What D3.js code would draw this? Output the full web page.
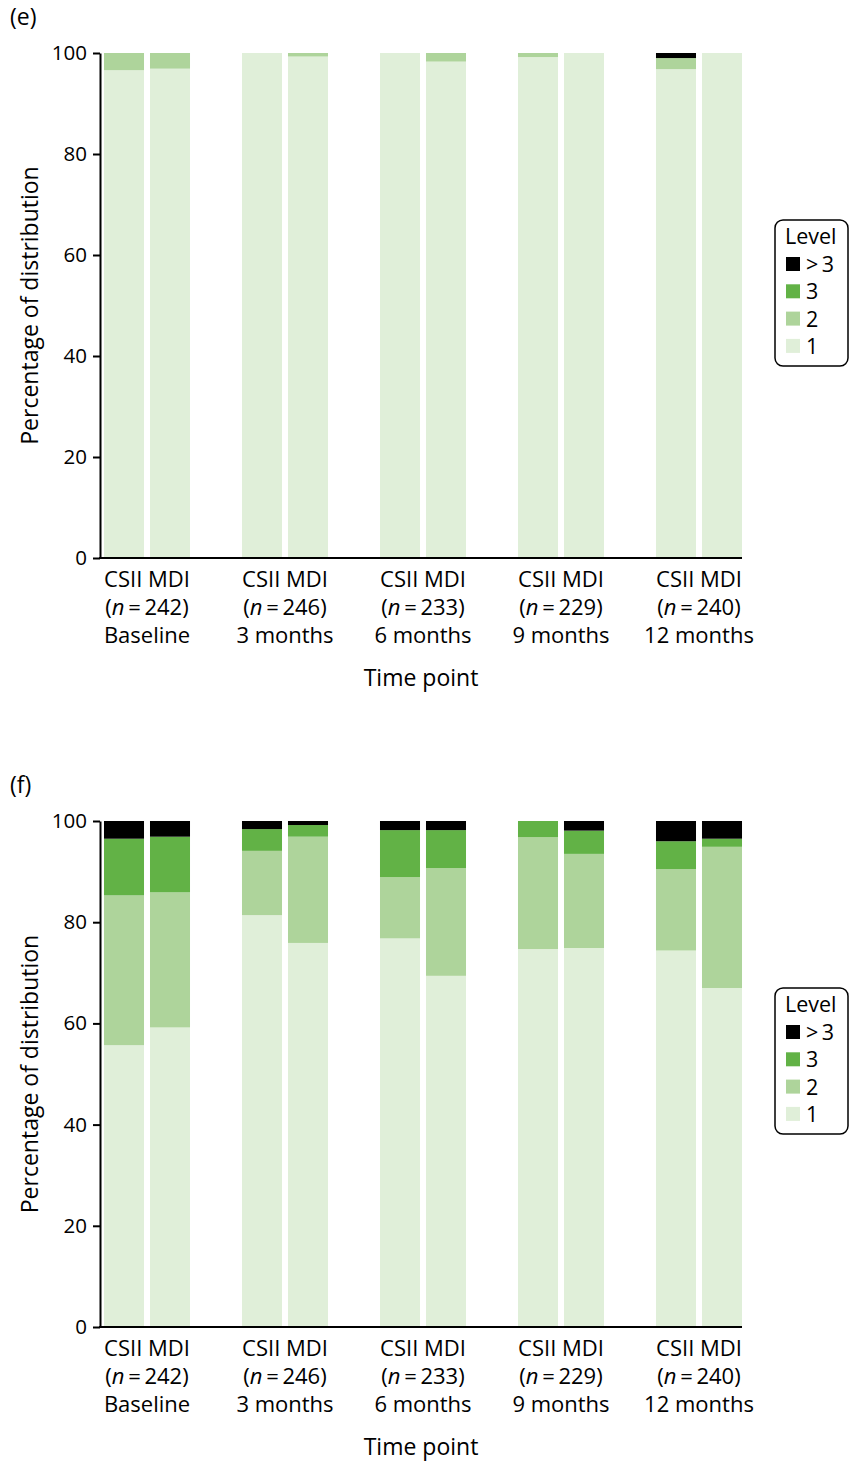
<!DOCTYPE html>
<html>
<head>
<meta charset="utf-8">
<script src="https://cdn.jsdelivr.net/npm/d3@7/dist/d3.min.js"></script>
<style>
  body { margin: 0; background: #fff; }
  svg text { font-family: "Open Sans", "Noto Sans", sans-serif; fill: #000; }
</style>
</head>
<body>
<svg id="chart" width="849" height="1461"></svg>
<script>
// Time points and treatment arms
const timePoints = ["Baseline", "3 months", "6 months", "9 months", "12 months"];
const arms = ["CSII", "MDI"];
const sampleSizes = [242, 246, 233, 229, 240];
const levels = ["1", "2", "3", ">3"];
const legendLabels = [">3", "3", "2", "1"];
const yTicks = [0, 20, 40, 60, 80, 100];

// Panel (e): percentage per level, bars ordered CSII/MDI within each time point
const e_level1 = [96.6, 96.9, 100, 99.3, 100, 98.3, 99.2, 100, 96.8, 100];
const e_level2 = [3.4, 3.1, 0, 0.7, 0, 1.7, 0.8, 0, 2.2, 0];
const e_level3 = [0, 0, 0, 0, 0, 0, 0, 0, 0, 0];
const e_levelGt3 = [0, 0, 0, 0, 0, 0, 0, 0, 1.0, 0];

// Panel (f)
const f_level1 = [55.7, 59.2, 81.4, 75.9, 76.8, 69.4, 74.7, 74.9, 74.4, 67.0];
const f_level2 = [29.6, 26.7, 12.7, 21.0, 12.1, 21.3, 22.1, 18.6, 16.1, 27.9];
const f_level3 = [11.2, 11.0, 4.3, 2.3, 9.3, 7.5, 3.2, 4.6, 5.5, 1.6];
const f_levelGt3 = [3.5, 3.1, 1.6, 0.8, 1.8, 1.8, 0, 1.9, 4.0, 3.5];

const colors = { "1": "#e0efd9", "2": "#aed49b", "3": "#62b246", ">3": "#000000" };

function buildRows(l1, l2, l3, l4) {
  const rows = [];
  timePoints.forEach((tp, i) => {
    arms.forEach((arm, j) => {
      const k = i * 2 + j;
      rows.push({ tp, arm, "1": l1[k], "2": l2[k], "3": l3[k], ">3": l4[k] });
    });
  });
  return rows;
}

const svg = d3.select("#chart");
const labelSize = 22;
const titleSize = 23;

function drawPanel(opts) {
  const { top, bottom, label, labelY, rows, legendTop } = opts;
  const g = svg.append("g");

  const x = d3.scaleBand().domain(timePoints).range([78, 768]);
  const xi = d3.scaleBand().domain(arms).range([0, x.bandwidth()])
    .paddingInner(0.13).paddingOuter(0.565);
  const y = d3.scaleLinear().domain([0, 100]).range([bottom, top]);

  const stack = d3.stack().keys(levels);
  const series = stack(rows);

  // stacked bars
  g.selectAll("g.layer").data(series).join("g")
    .attr("class", "layer")
    .attr("fill", d => colors[d.key])
    .selectAll("rect").data(d => d).join("rect")
      .attr("x", d => x(d.data.tp) + xi(d.data.arm))
      .attr("width", xi.bandwidth())
      .attr("y", d => y(d[1]))
      .attr("height", d => Math.max(0, y(d[0]) - y(d[1])));

  // y axis
  const axisX = 100;
  const yAxis = d3.axisLeft(y).tickValues(yTicks).tickSize(7).tickSizeOuter(0).tickPadding(6);
  const ya = g.append("g").attr("transform", `translate(${axisX},0)`).call(yAxis);
  ya.select(".domain").attr("stroke", "#000").attr("stroke-width", 2);
  ya.selectAll(".tick line").attr("stroke", "#000").attr("stroke-width", 2);
  ya.selectAll(".tick text").attr("font-size", 20.5).attr("fill", "#000")
    .style("font-family", '"Open Sans", "Noto Sans", sans-serif');

  // x axis baseline
  const xEnd = x(timePoints[timePoints.length - 1]) + xi(arms[1]) + xi.bandwidth();
  g.append("line")
    .attr("x1", axisX - 1).attr("x2", xEnd)
    .attr("y1", y(0)).attr("y2", y(0))
    .attr("stroke", "#000").attr("stroke-width", 2);

  // x category labels
  const lab = g.selectAll("g.xlab").data(timePoints).join("g")
    .attr("class", "xlab")
    .attr("transform", d => `translate(${x(d) + x.bandwidth() / 2},${y(0)})`);
  lab.append("text").attr("y", 29).attr("text-anchor", "middle").attr("font-size", labelSize)
    .text(arms.join(" "));
  const nText = lab.append("text").attr("y", 57).attr("text-anchor", "middle").attr("font-size", labelSize);
  nText.append("tspan").text("(");
  nText.append("tspan").attr("font-style", "italic").text("n");
  nText.append("tspan").text((d, i) => "\u2009=\u2009" + sampleSizes[i] + ")");
  lab.append("text").attr("y", 85).attr("text-anchor", "middle").attr("font-size", labelSize)
    .text(d => d);

  // axis titles
  g.append("text").attr("x", 421).attr("y", y(0) + 128).attr("text-anchor", "middle")
    .attr("font-size", titleSize).text("Time point");
  g.append("text")
    .attr("transform", `translate(38,${(top + bottom) / 2}) rotate(-90)`)
    .attr("text-anchor", "middle").attr("font-size", titleSize).text("Percentage of distribution");

  // panel label
  g.append("text").attr("x", 10).attr("y", labelY).attr("font-size", titleSize).text(label);

  // legend
  const lg = g.append("g").attr("transform", `translate(775,${legendTop})`);
  lg.append("rect").attr("x", 0).attr("y", 0).attr("width", 73).attr("height", 146)
    .attr("rx", 8).attr("fill", "#fff").attr("stroke", "#000").attr("stroke-width", 1.5);
  lg.append("text").attr("x", 10).attr("y", 24).attr("font-size", 21.5).text("Level");
  const items = lg.selectAll("g.item").data(legendLabels).join("g")
    .attr("class", "item")
    .attr("transform", (d, i) => `translate(11,${37 + i * 27.3})`);
  items.append("rect").attr("width", 14).attr("height", 14).attr("fill", d => colors[d]);
  items.append("text").attr("x", 20).attr("y", 15).attr("font-size", 21.5)
    .text(d => d === ">3" ? ">\u20093" : d);
}

drawPanel({
  top: 53, bottom: 558, label: "(e)", labelY: 25,
  rows: buildRows(e_level1, e_level2, e_level3, e_levelGt3), legendTop: 220
});
drawPanel({
  top: 821, bottom: 1327, label: "(f)", labelY: 793,
  rows: buildRows(f_level1, f_level2, f_level3, f_levelGt3), legendTop: 988
});
</script>
</body>
</html>
